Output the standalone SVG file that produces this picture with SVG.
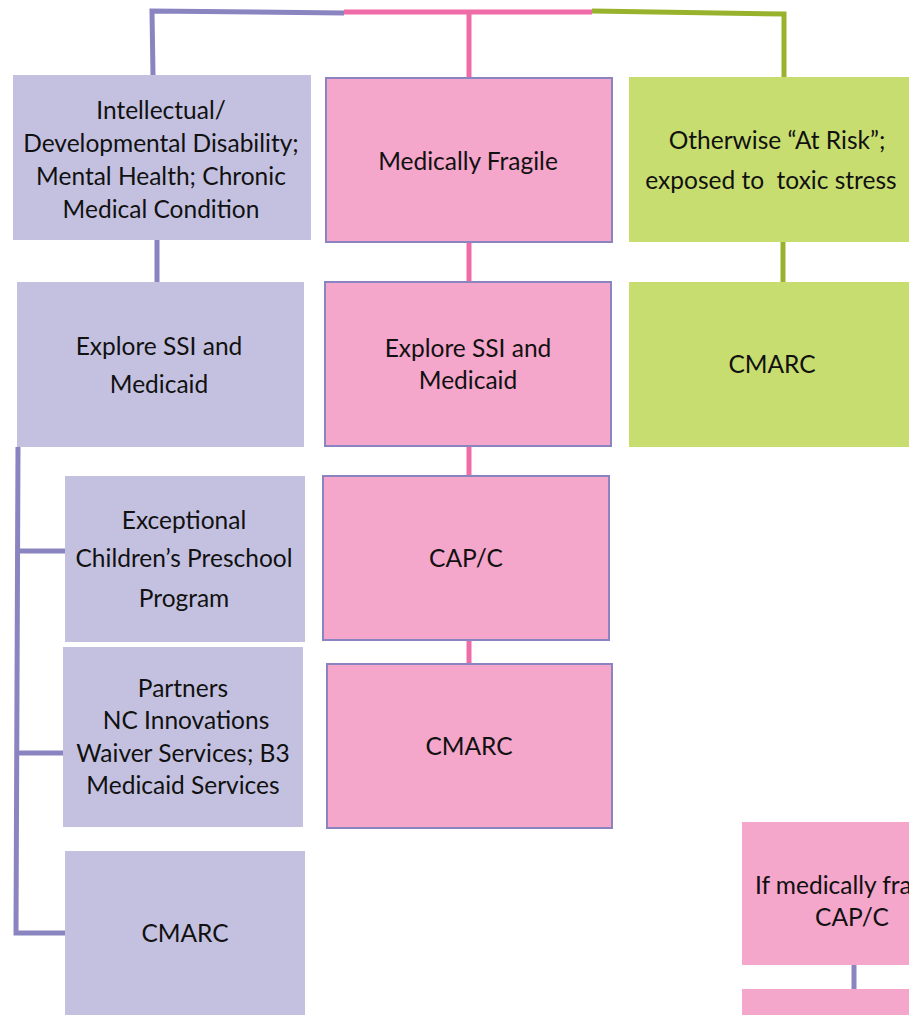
<svg xmlns="http://www.w3.org/2000/svg" width="909" height="1015" viewBox="0 0 909 1015">
<style>
.pu{fill:#c4c1e0}
.pk{fill:#f5a6cb;stroke:#8a84c0;stroke-width:2}
.pk2{fill:#f5a6cb}
.gr{fill:#c8dd6f}
.lp{stroke:#8a84c0;stroke-width:5;fill:none}
.lk{stroke:#f06ca8;stroke-width:5;fill:none}
.lg{stroke:#98b22e;stroke-width:5;fill:none}
text{font-family:Lato,"Open Sans","Liberation Sans",sans-serif;font-size:24.5px;fill:#111;text-anchor:middle;white-space:pre}
</style>
<rect width="909" height="1015" fill="#fff"/>
<g id="connectors">
<polyline class="lp" points="153,75 152,11 344,13"/>
<line class="lk" x1="344" y1="12" x2="592" y2="12"/>
<polyline class="lg" points="592,11 784,14 784,77"/>
<line class="lk" x1="469" y1="12" x2="469" y2="78"/>
<line class="lp" x1="157" y1="240" x2="157" y2="282"/>
<line class="lk" x1="469" y1="242" x2="469" y2="282"/>
<line class="lg" x1="783" y1="242" x2="783" y2="282"/>
<line class="lk" x1="469" y1="446" x2="469" y2="477"/>
<line class="lk" x1="469" y1="640" x2="469" y2="664"/>
<polyline class="lp" points="18,447 16,933 65,933"/>
<line class="lp" x1="17" y1="551" x2="65" y2="551"/>
<line class="lp" x1="17" y1="753" x2="63" y2="753"/>
<line class="lp" x1="854" y1="965" x2="854" y2="989"/>
</g>
<g id="n-idd"><rect class="pu" x="13" y="75" width="298" height="165"/>
<text x="161" y="119">Intellectual/</text><text x="161" y="152">Developmental Disability;</text><text x="161" y="185">Mental Health; Chronic</text><text x="161" y="218">Medical Condition</text></g>
<g id="n-mf"><rect class="pk" x="326" y="78" width="286" height="164"/>
<text x="468" y="170">Medically Fragile</text></g>
<g id="n-risk"><rect class="gr" x="629" y="77" width="280" height="165"/>
<text x="777" y="149">Otherwise “At Risk”;</text><text x="771" y="189">exposed to  toxic stress</text></g>
<g id="n-ssi1"><rect class="pu" x="17" y="282" width="287" height="165"/>
<text x="159" y="355">Explore SSI and</text><text x="159" y="393">Medicaid</text></g>
<g id="n-ssi2"><rect class="pk" x="325" y="282" width="286" height="164"/>
<text x="468" y="357">Explore SSI and</text><text x="468" y="389">Medicaid</text></g>
<g id="n-cmarc-g"><rect class="gr" x="629" y="282" width="280" height="165"/>
<text x="772" y="373">CMARC</text></g>
<g id="n-ec"><rect class="pu" x="65" y="476" width="240" height="166"/>
<text x="184" y="529">Exceptional</text><text x="184" y="567">Children’s Preschool</text><text x="184" y="607">Program</text></g>
<g id="n-capc"><rect class="pk" x="323" y="476" width="286" height="164"/>
<text x="466" y="567">CAP/C</text></g>
<g id="n-partners"><rect class="pu" x="63" y="647" width="240" height="180"/>
<text x="183" y="697">Partners</text><text x="186" y="729">NC Innovations</text><text x="183" y="762">Waiver Services; B3</text><text x="183" y="794">Medicaid Services</text></g>
<g id="n-cmarc-p"><rect class="pk" x="327" y="664" width="285" height="164"/>
<text x="469" y="755">CMARC</text></g>
<g id="n-cmarc-l"><rect class="pu" x="65" y="851" width="240" height="164"/>
<text x="185" y="942">CMARC</text></g>
<g id="n-ifmf"><rect class="pk2" x="742" y="822" width="230" height="143"/>
<text x="852" y="894">If medically fragile</text><text x="852" y="926">CAP/C</text></g>
<g id="n-bottom"><rect class="pk2" x="742" y="989" width="230" height="26"/></g>
</svg>
